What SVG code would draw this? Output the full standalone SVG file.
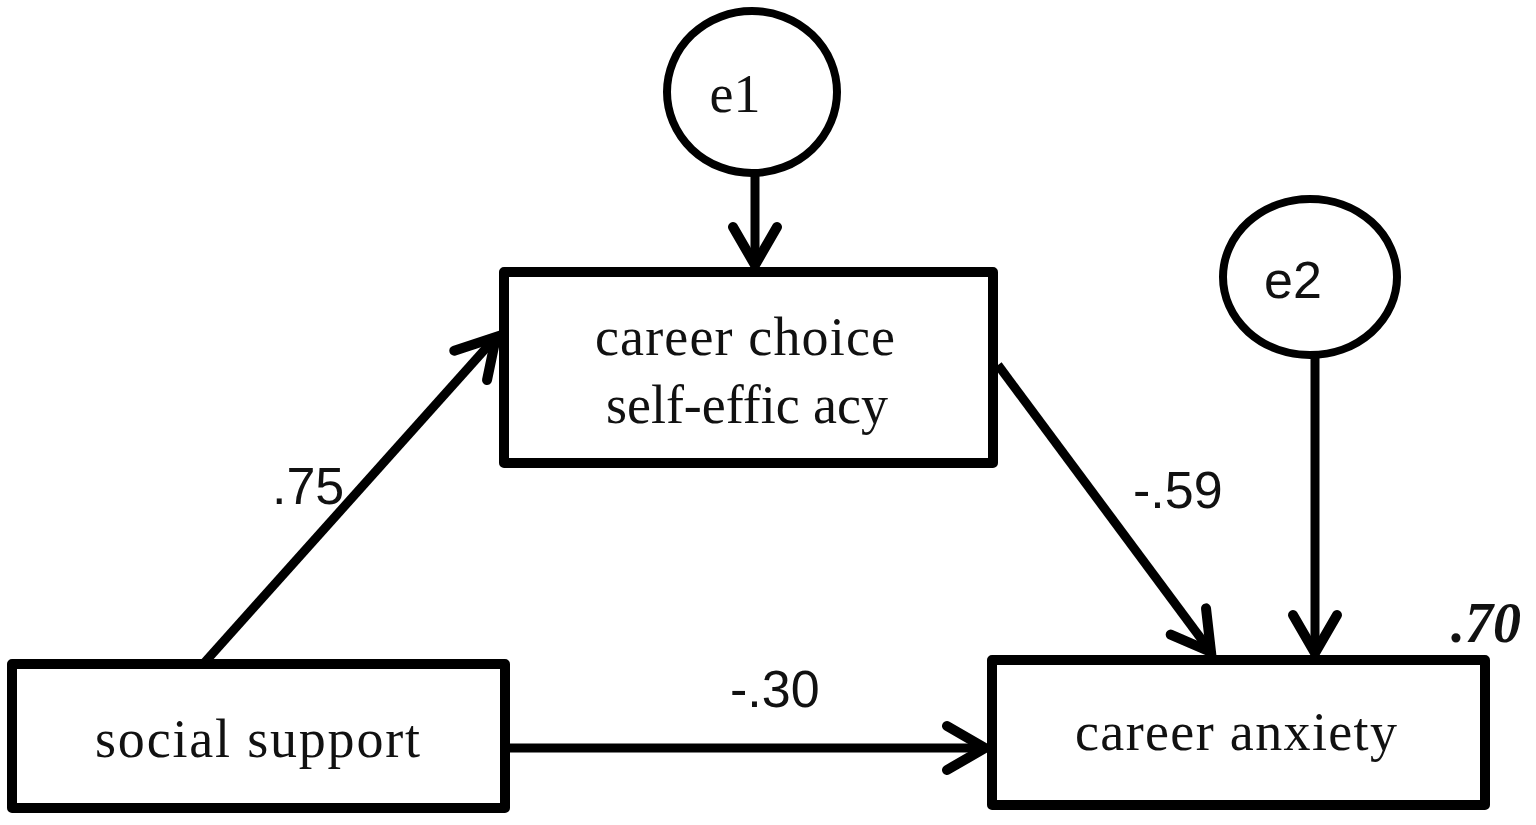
<svg xmlns="http://www.w3.org/2000/svg" width="1536" height="825" viewBox="0 0 1536 825">
<defs>
<style>
.box{fill:#fff;stroke:#000;stroke-width:10;stroke-linejoin:round}
.circ{fill:#fff;stroke:#000;stroke-width:8}
.lbl{font-family:"Liberation Serif","Times New Roman",serif;font-size:54px;fill:#111}
.num{font-family:"Liberation Sans",Arial,sans-serif;font-size:52px;fill:#111}
.con{fill:none;stroke:#000;stroke-width:9}
</style>
<marker id="ah" markerUnits="userSpaceOnUse" viewBox="-50 -30 60 60" refX="0" refY="0" markerWidth="60" markerHeight="60" orient="auto" overflow="visible">
<path d="M -38,-22 L 0,0 L -38,22" fill="none" stroke="#000" stroke-width="10" stroke-linecap="round" stroke-linejoin="miter"/>
</marker>
</defs>
<rect width="1536" height="825" fill="#fff"/>
<g id="connectors">
<line class="con" x1="755" y1="172" x2="755" y2="265" marker-end="url(#ah)"/>
<line class="con" x1="1315" y1="356" x2="1315" y2="653" marker-end="url(#ah)"/>
<line class="con" x1="508" y1="748" x2="985" y2="748" marker-end="url(#ah)"/>
<line class="con" x1="205" y1="662" x2="496" y2="337" marker-end="url(#ah)"/>
<line class="con" x1="998" y1="365" x2="1211" y2="652" marker-end="url(#ah)"/>
</g>
<g id="e1">
<ellipse class="circ" cx="752" cy="92" rx="85" ry="81"/>
<text class="lbl" x="735" y="112" text-anchor="middle" font-size="50">e1</text>
</g>
<g id="e2">
<ellipse class="circ" cx="1310" cy="277" rx="87" ry="78"/>
<text class="num" x="1293" y="298" text-anchor="middle" font-size="44">e2</text>
</g>
<g id="self-efficacy">
<rect class="box" x="504" y="272" width="489" height="191"/>
<text class="lbl" x="595" y="355" textLength="300" lengthAdjust="spacing">career choice</text>
<text class="lbl" x="606" y="423" textLength="282" lengthAdjust="spacing">self-effic acy</text>
</g>
<g id="social-support">
<rect class="box" x="12" y="664" width="493" height="144"/>
<text class="lbl" x="95" y="757" textLength="325" lengthAdjust="spacing">social support</text>
</g>
<g id="career-anxiety">
<rect class="box" x="992" y="660" width="493" height="145"/>
<text class="lbl" x="1075" y="750" textLength="322" lengthAdjust="spacing">career anxiety</text>
<text x="1451" y="642" font-family="'Liberation Serif','Times New Roman',serif" font-size="56" font-weight="bold" font-style="italic" fill="#111">.70</text>
</g>
<g id="labels">
<text class="num" x="272" y="504">.75</text>
<text class="num" x="1133" y="508">-.59</text>
<text class="num" x="730" y="707">-.30</text>
</g>
</svg>
